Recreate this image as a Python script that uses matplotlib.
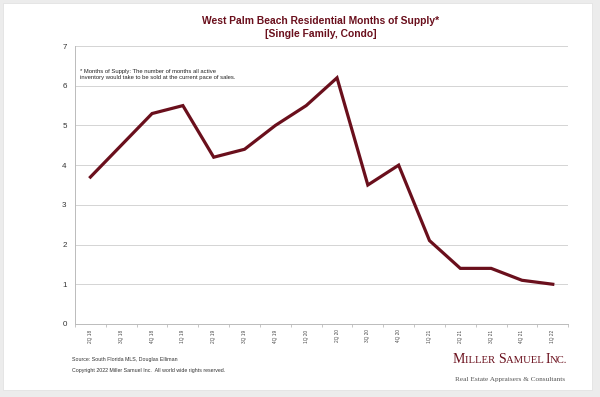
import matplotlib
matplotlib.use('Agg')
import matplotlib.pyplot as plt
from matplotlib.patches import Rectangle
from matplotlib.offsetbox import TextArea, HPacker, AnchoredOffsetbox

# data
quarters = ['2Q 18', '3Q 18', '4Q 18', '1Q 19', '2Q 19', '3Q 19', '4Q 19', '1Q 20',
            '2Q 20', '3Q 20', '4Q 20', '1Q 21', '2Q 21', '3Q 21', '4Q 21', '1Q 22']
months_supply = [3.7, 4.5, 5.3, 5.5, 4.2, 4.4, 5.0, 5.5,
                 6.2, 3.5, 4.0, 2.1, 1.4, 1.4, 1.1, 1.0]
y_ticks = [0, 1, 2, 3, 4, 5, 6, 7]

maroon = '#6a0f1c'
plt.rcParams['font.family'] = ['Liberation Sans', 'DejaVu Sans']

fig = plt.figure(figsize=(6, 3.97), dpi=100)
fig.patch.set_facecolor('#ececec')
# white card behind everything
fig.patches.append(Rectangle((3 / 600, 7 / 397), 589 / 600, 387 / 397,
                             transform=fig.transFigure, facecolor='white',
                             edgecolor='#e2e2e2', lw=0.6, zorder=-10))

ax = fig.add_axes([0.125, 0.184, 0.822, 0.70])
ax.set_facecolor('white')
x = list(range(len(quarters)))
ax.plot(x, months_supply, color=maroon, lw=2.3, solid_joinstyle='miter', zorder=3)

ax.set_xlim(-0.5, len(quarters) - 0.5)
ax.set_ylim(0, 7)
ax.set_yticks(y_ticks)
ax.set_yticklabels([str(v) for v in y_ticks], fontsize=5.8, color='#333333')
ax.set_xticks(x)
ax.set_xticklabels(quarters, rotation=90, fontsize=3.4, color='#444444')
ax.set_xticks([i - 0.5 for i in range(len(quarters) + 1)], minor=True)
ax.tick_params(axis='x', which='major', length=0, pad=4)
ax.tick_params(axis='x', which='minor', length=2, color='#bbbbbb', width=0.6)
ax.tick_params(axis='y', length=0, pad=6)
ax.grid(axis='y', color='#d4d4d4', lw=0.7)
ax.set_axisbelow(True)
for side in ['top', 'right']:
    ax.spines[side].set_visible(False)
ax.spines['left'].set_color('#bbbbbb')
ax.spines['left'].set_linewidth(0.7)
ax.spines['bottom'].set_color('#bbbbbb')
ax.spines['bottom'].set_linewidth(0.7)

ax.text(0.01, 0.918, '* Months of Supply: The number of months all active\n'
        'inventory would take to be sold at the current pace of sales.',
        transform=ax.transAxes, fontsize=4.2, color='#222222', va='top',
        linespacing=1.25)

fig.text(0.535, 0.948, 'West Palm Beach Residential Months of Supply*',
         ha='center', va='center', fontsize=7.4, fontweight='bold', color=maroon)
fig.text(0.535, 0.915, '[Single Family, Condo]',
         ha='center', va='center', fontsize=7.4, fontweight='bold', color=maroon)

fig.text(0.12, 0.094, 'Source: South Florida MLS, Douglas Elliman',
         fontsize=3.8, color='#333333', va='center')
fig.text(0.12, 0.066, 'Copyright 2022 Miller Samuel Inc.  All world wide rights reserved.',
         fontsize=3.8, color='#333333', va='center')

# logo in small caps
big, small = 10, 7.7
parts = [('M', big), ('ILLER ', small), ('S', big), ('AMUEL ', small), ('I', big), ('NC.', small)]
areas = [TextArea(t, textprops=dict(fontsize=s, family='Liberation Serif', color=maroon))
         for t, s in parts]
logo = HPacker(children=areas, align='baseline', pad=0, sep=0)
anch = AnchoredOffsetbox(loc='center', child=logo, frameon=False,
                         bbox_to_anchor=(0.85, 0.095), bbox_transform=fig.transFigure,
                         borderpad=0, pad=0)
fig.add_artist(anch)
fig.text(0.85, 0.045, 'Real Estate Appraisers & Consultants', ha='center', va='center',
         fontsize=5.2, family='Liberation Serif', color='#555555')

fig.savefig('out.png', dpi=100, facecolor=fig.get_facecolor())
